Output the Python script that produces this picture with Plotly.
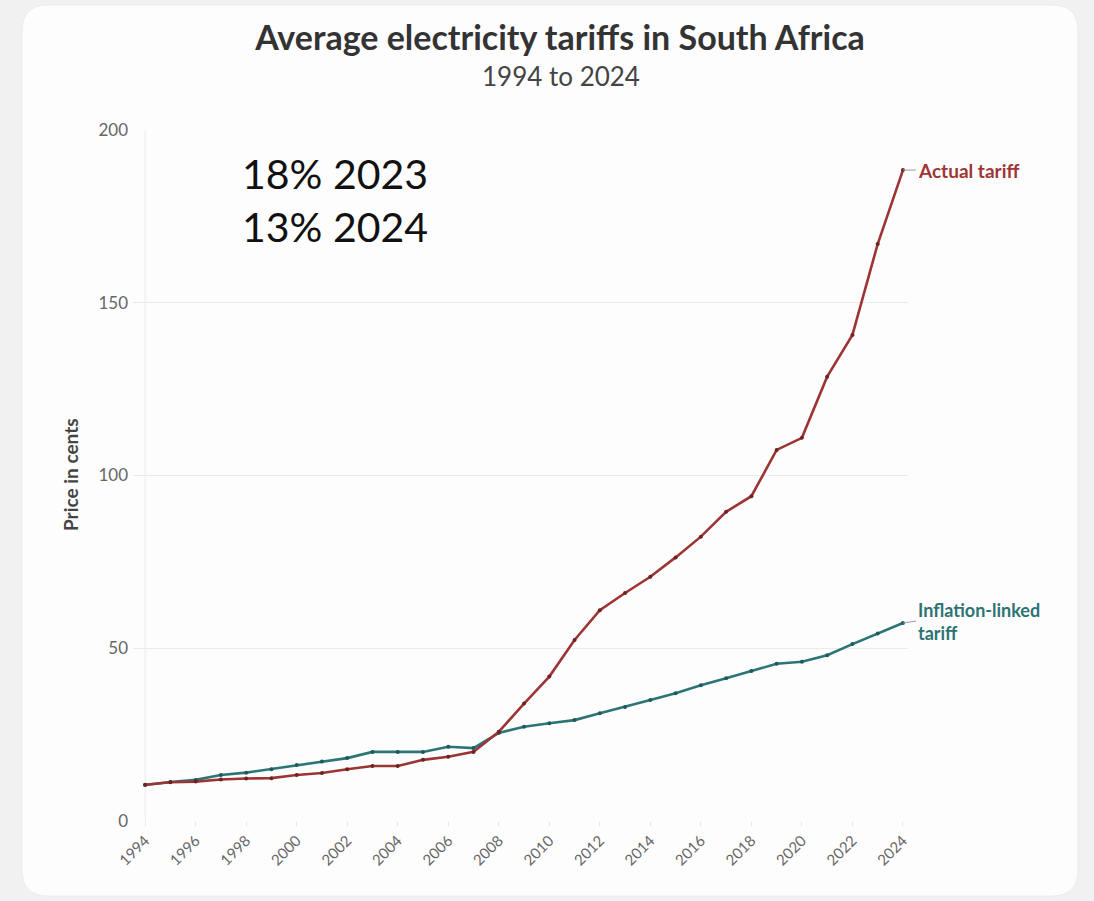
import plotly.graph_objects as go

years = list(range(1994, 2025))
actual_tariff = [10.5, 11.2, 11.4, 12.0, 12.3, 12.4, 13.3, 13.9, 15.0, 15.9, 15.9, 17.7, 18.6, 20.0,
                 25.8, 34.0, 41.8, 52.4, 61.0, 66.0, 70.7, 76.3, 82.3, 89.5, 94.0, 107.4, 110.9,
                 128.6, 140.7, 167.0, 188.4]
inflation_tariff = [10.4, 11.3, 11.9, 13.3, 14.0, 15.0, 16.2, 17.2, 18.2, 20.0, 20.0, 20.0, 21.5, 21.1,
                    25.5, 27.3, 28.3, 29.2, 31.2, 33.0, 35.0, 37.0, 39.3, 41.3, 43.4, 45.5, 46.1,
                    48.0, 51.2, 54.3, 57.3]
x_ticks = list(range(1994, 2025, 2))
y_ticks = [0, 50, 100, 150, 200]

RED = "#9c3434"
TEAL = "#2c7575"
FONT = "Lato"

W, H = 1094, 901
ML, MR, MT, MB = 133, 186, 130, 80
PW, PH = W - ML - MR, H - MT - MB


def px2x(p):
    return (p - ML) / PW


def px2y(q):
    return (H - MB - q) / PH


fig = go.Figure()
fig.add_trace(go.Scatter(
    x=years, y=inflation_tariff, mode="lines+markers", name="Inflation-linked tariff",
    line=dict(color=TEAL, width=2.6), marker=dict(size=4, color="#1f5a5a"),
    showlegend=False))
fig.add_trace(go.Scatter(
    x=years, y=actual_tariff, mode="lines+markers", name="Actual tariff",
    line=dict(color=RED, width=2.6), marker=dict(size=4, color="#6e2222"),
    showlegend=False))

# card background with rounded corners
x0, x1 = px2x(22), px2x(1078)
y0, y1 = px2y(896), px2y(5)
rx, ry = 26 / PW, 26 / PH
path = (f"M {x0+rx},{y1} L {x1-rx},{y1} Q {x1},{y1} {x1},{y1-ry} "
        f"L {x1},{y0+ry} Q {x1},{y0} {x1-rx},{y0} L {x0+rx},{y0} "
        f"Q {x0},{y0} {x0},{y0+ry} L {x0},{y1-ry} Q {x0},{y1} {x0+rx},{y1} Z")
fig.add_shape(type="path", path=path, xref="paper", yref="paper", layer="below",
              fillcolor="#fdfdfd", line=dict(color="#ececec", width=1))

fig.update_layout(
    width=W, height=H,
    margin=dict(l=ML, r=MR, t=MT, b=MB),
    paper_bgcolor="#f1f1f1",
    plot_bgcolor="rgba(0,0,0,0)",
    font=dict(family=FONT, color="#555"),
    xaxis=dict(range=[1993.52, 2024.2], tickvals=x_ticks, ticktext=[str(v) for v in x_ticks],
               tickangle=-45, tickfont=dict(size=15, color="#666"), showgrid=False,
               zeroline=False, showline=False, ticks="outside", ticklen=4, tickcolor="#e6e6e6"),
    yaxis=dict(range=[0, 200], tickvals=y_ticks, tickfont=dict(size=17, color="#666"),
               gridcolor="#ebebeb", gridwidth=1, zeroline=False, showline=False,
               ticks="", ticklabelstandoff=4),
    title=dict(text="<b>Average electricity tariffs in South Africa</b>",
               x=560 / W, xref="container", xanchor="center", y=1 - 38 / H, yanchor="middle",
               font=dict(size=34, color="#333", family=FONT)),
)
# 1994 axis line
fig.add_shape(type="line", xref="x", yref="paper", x0=1994, x1=1994, y0=0, y1=1,
              line=dict(color="#ececec", width=1), layer="below")

fig.add_annotation(text="1994 to 2024", xref="paper", yref="paper", x=px2x(561),
                   y=px2y(76), xanchor="center", yanchor="middle", showarrow=False,
                   font=dict(size=26, color="#444", family=FONT))

fig.add_annotation(text="<b>Price in cents</b>", xref="paper", yref="paper", x=px2x(70),
                   y=px2y(475), xanchor="center", yanchor="middle", showarrow=False,
                   textangle=-90, font=dict(size=19, color="#444", family=FONT))

fig.add_annotation(text="18% 2023<br>13% 2024", xref="paper", yref="paper",
                   x=px2x(240), y=px2y(147), xanchor="left", yanchor="top", align="left",
                   showarrow=False, font=dict(size=41, color="#111", family=FONT))

fig.add_annotation(x=years[-1], y=actual_tariff[-1], text="<b>Actual tariff</b>",
                   showarrow=True, arrowhead=0, arrowwidth=1, arrowcolor="#999",
                   ax=13, ay=0, xanchor="left", yanchor="middle",
                   font=dict(size=19, color="#a03535", family=FONT))
fig.add_annotation(x=years[-1], y=inflation_tariff[-1], text="<b>Inflation-linked<br>tariff</b>",
                   showarrow=True, arrowhead=0, arrowwidth=1, arrowcolor="#999",
                   ax=13, ay=-2, xanchor="left", yanchor="middle", align="left",
                   font=dict(size=18, color="#2c7373", family=FONT))

fig.write_html("out.html")
